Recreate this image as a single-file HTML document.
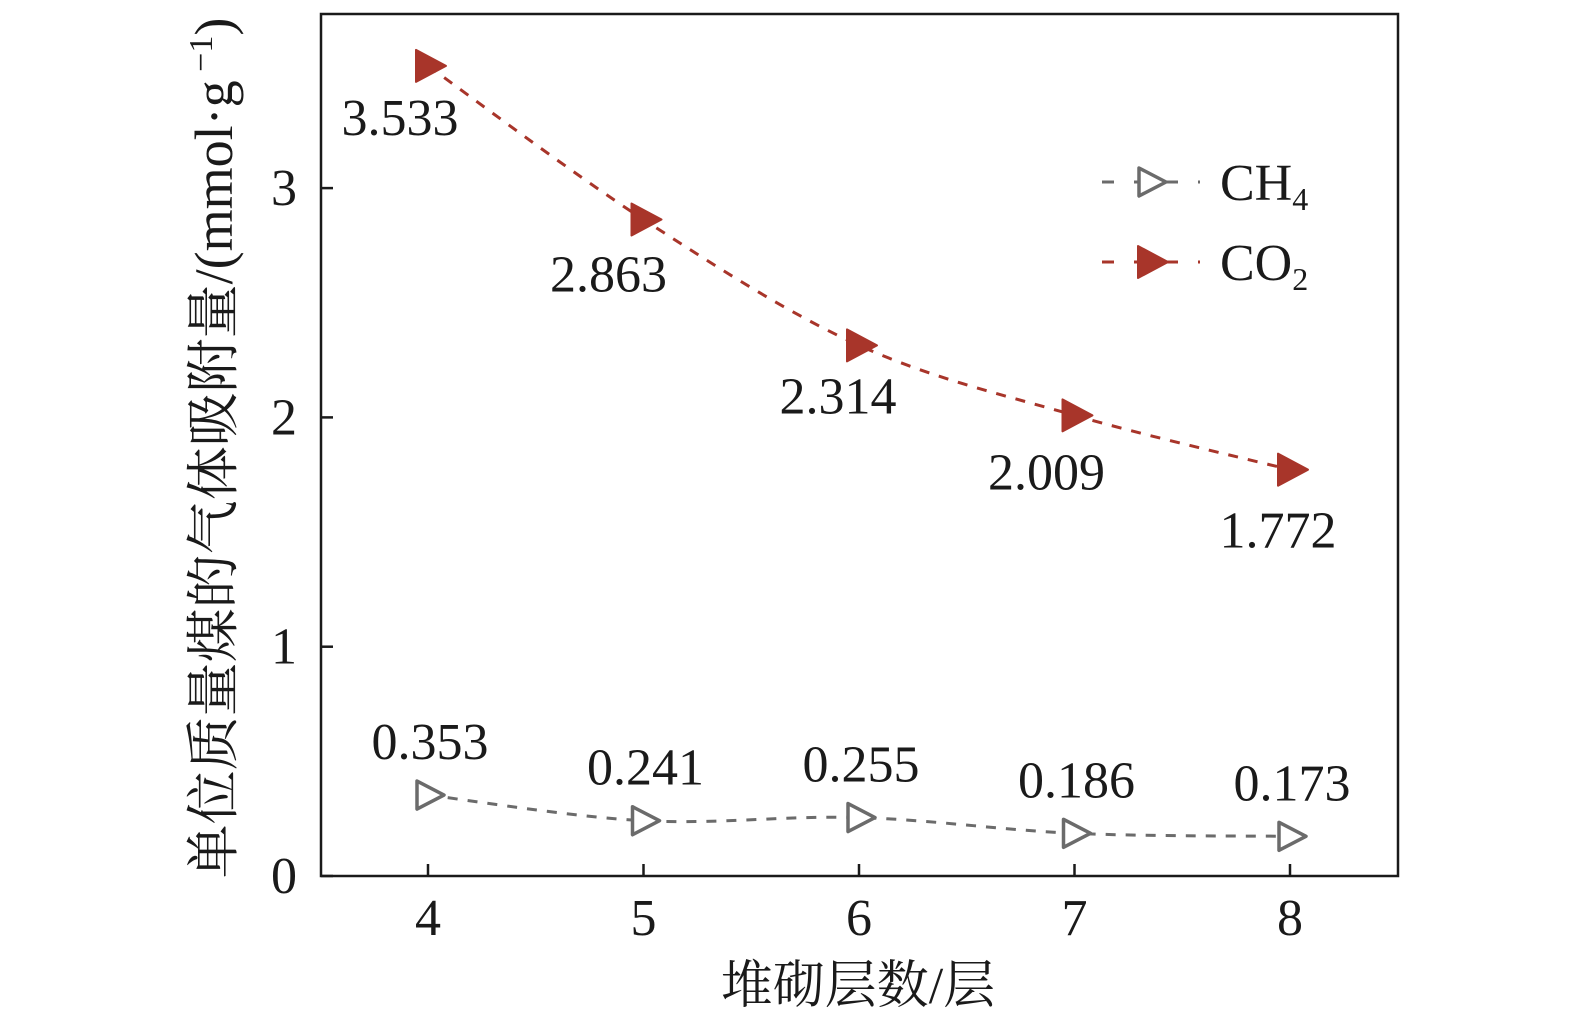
<!DOCTYPE html>
<html><head><meta charset="utf-8"><style>
html,body{margin:0;padding:0;background:#fff;overflow:hidden;width:1575px;height:1033px;}
svg{display:block;font-family:"Liberation Serif","Noto Serif CJK SC",serif;}
</style></head><body>
<svg id="chart" width="1575" height="1033" viewBox="0 0 1575 1033" xmlns="http://www.w3.org/2000/svg">
<rect x="321" y="14" width="1077" height="862" fill="none" stroke="#1a1a1a" stroke-width="2.5"/>
<g id="ticks"></g>
<g id="series"></g>
<text transform="translate(232,448) rotate(-90)" text-anchor="middle" font-size="54" fill="#1a1a1a">单位质量煤的气体吸附量/(mmol·g<tspan dy="-20" font-size="34"> −1</tspan><tspan dy="20">)</tspan></text>
<text x="858" y="1003" text-anchor="middle" font-size="52" fill="#1a1a1a">堆砌层数/层</text>
<g>
<g>
<line x1="1102" y1="182" x2="1200" y2="182" stroke="#6b6b6b" stroke-width="3" stroke-dasharray="12,20"/>
<path d="M1139,168 L1166,182 L1139,196 Z" fill="#fff" stroke="#6b6b6b" stroke-width="3.5" stroke-linejoin="round"/>
<text x="1220" y="200" font-size="52" fill="#1a1a1a">CH<tspan dy="10" font-size="32">4</tspan></text>
</g>
<g>
<line x1="1102" y1="262" x2="1200" y2="262" stroke="#a8352a" stroke-width="3" stroke-dasharray="12,20"/>
<path d="M1138,246 L1168,262 L1138,278 Z" fill="#a8352a" stroke="#a8352a" stroke-width="2" stroke-linejoin="round"/>
<text x="1220" y="280" font-size="52" fill="#1a1a1a">CO<tspan dy="10" font-size="32">2</tspan></text>
</g>
</g>
</svg>
<script>
const layers = [4,5,6,7,8];
const co2 = [3.533,2.863,2.314,2.009,1.772];
const ch4 = [0.353,0.241,0.255,0.186,0.173];
const co2Labels = ["3.533","2.863","2.314","2.009","1.772"];
const ch4Labels = ["0.353","0.241","0.255","0.186","0.173"];
const yTicks = [0,1,2,3];
const NS="http://www.w3.org/2000/svg";
const xS = v => 428 + (v-4)*215.5;
const yS = v => 876 - v*229.3;
const co2Dx=[-28,-35,-21,-28,-12], co2Dy=[69,72,68,74,78];
function mk(tag, attrs, parent){const e=document.createElementNS(NS,tag);for(const k in attrs)e.setAttribute(k,attrs[k]);parent.appendChild(e);return e;}
const tg=document.getElementById('ticks');
yTicks.forEach(t=>{
  const l=mk('line',{x1:321,x2:333,y1:yS(t),y2:yS(t),stroke:'#1a1a1a','stroke-width':2.5},tg);
  
  
  const tx=mk('text',{x:297,y:yS(t)+17,'text-anchor':'end','font-size':52,fill:'#1a1a1a'},tg);
  tx.textContent=t;
  
  
});
layers.forEach(v=>{
  const l=mk('line',{x1:xS(v),x2:xS(v),y1:876,y2:864,stroke:'#1a1a1a','stroke-width':2.5},tg);
  
  
  const tx=mk('text',{x:xS(v),y:935,'text-anchor':'middle','font-size':52,fill:'#1a1a1a'},tg);
  tx.textContent=v;
  
  
});
function smooth(pts){
  let d=`M${pts[0][0]},${pts[0][1]}`;
  for(let i=0;i<pts.length-1;i++){
    const p0=pts[i-1]||pts[i],p1=pts[i],p2=pts[i+1],p3=pts[i+2]||p2;
    const c1=[p1[0]+(p2[0]-p0[0])/6,p1[1]+(p2[1]-p0[1])/6];
    const c2=[p2[0]-(p3[0]-p1[0])/6,p2[1]-(p3[1]-p1[1])/6];
    d+=` C${c1[0]},${c1[1]} ${c2[0]},${c2[1]} ${p2[0]},${p2[1]}`;
  }
  return d;
}
const sg=document.getElementById('series');
function series(vals,color,filled,name){
  const pts=layers.map((x,i)=>[xS(x),yS(vals[i])]);
  const p=mk('path',{d:smooth(pts),fill:'none',stroke:color,'stroke-width':3,'stroke-dasharray':'10,10'},sg);
  
  
  pts.forEach(([x,y])=>{
    const m=mk('path',{d:filled?`M${x-12},${y-16} L${x+18},${y} L${x-12},${y+16} Z`:`M${x-11},${y-14} L${x+16},${y} L${x-11},${y+14} Z`,
      fill:filled?color:'#fff',stroke:color,'stroke-width':filled?2:3.5,'stroke-linejoin':'round'},sg);
    
    
  });
}
series(ch4,'#6b6b6b',false,'ch4');
series(co2,'#a8352a',true,'co2');
layers.forEach((x,i)=>{
  const t=mk('text',{x:xS(x)+co2Dx[i],y:yS(co2[i])+co2Dy[i],'text-anchor':'middle','font-size':52,fill:'#1a1a1a'},sg);
  t.textContent=co2Labels[i];
  
  
  const u=mk('text',{x:xS(x)+2,y:yS(ch4[i])-36,'text-anchor':'middle','font-size':52,fill:'#1a1a1a'},sg);
  u.textContent=ch4Labels[i];
  
  
});
</script>
</body></html>
